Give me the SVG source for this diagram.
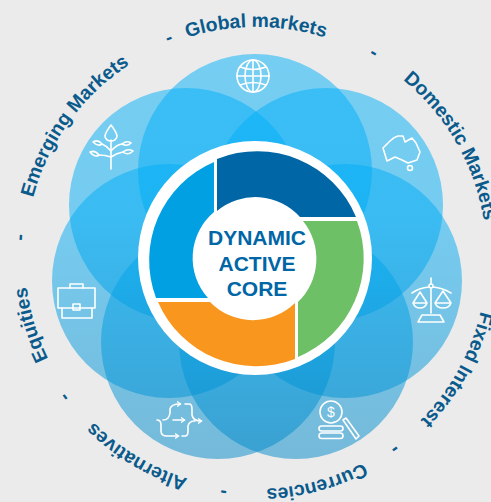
<svg xmlns="http://www.w3.org/2000/svg" width="491" height="502" viewBox="0 0 491 502">
<style>
.bg{fill:#ebebeb}
.petal{fill:url(#pg);fill-opacity:.5}
.lbl{font:bold 19.400px "Liberation Sans",Arial,sans-serif;fill:#0a5a8c;text-anchor:middle}
.core{font:bold 21px "Liberation Sans",Arial,sans-serif;fill:#0066a6;text-anchor:middle}
.ic{fill:none;stroke:#fff;stroke-width:1.6;stroke-linecap:round;stroke-linejoin:round}
</style>
<defs>
<linearGradient id="pg" gradientUnits="userSpaceOnUse" x1="0" y1="54" x2="0" y2="460">
<stop offset="0" stop-color="#00b0fa"/><stop offset=".4" stop-color="#00acf5"/><stop offset="1" stop-color="#0088c8"/>
</linearGradient>
<path id="orbit" d="M487 258A231 231 0 1 1 25 258A231 231 0 1 1 487 258Z"/>
<marker id="ah" markerWidth="5" markerHeight="6" refX="3.5" refY="3" orient="auto" markerUnits="userSpaceOnUse"><path d="M0.5 0.5L4 3L0.5 5.5" fill="none" stroke="#fff" stroke-width="1.4"/></marker>
</defs>
<rect class="bg" width="491" height="502"/>
<g id="petals">
<circle id="petal-global" class="petal" cx="255" cy="171" r="117"/>
<circle id="petal-domestic" class="petal" cx="326" cy="205" r="117"/>
<circle id="petal-fixed" class="petal" cx="345" cy="281" r="117"/>
<circle id="petal-currencies" class="petal" cx="296" cy="342" r="117"/>
<circle id="petal-alternatives" class="petal" cx="218" cy="342" r="117"/>
<circle id="petal-equities" class="petal" cx="169" cy="281" r="117"/>
<circle id="petal-emerging" class="petal" cx="186" cy="205" r="117"/>
</g>
<g id="core">
<circle cx="255" cy="258" r="117" fill="#fff"/>
<path fill="#0066a6" d="M217 159A107 107 0 0 1 356 217H300A60 60 0 0 0 217 211Z"/>
<path fill="#6dc066" d="M303 221H357A107 107 0 0 1 298 357V302A60 60 0 0 0 303 221Z"/>
<path fill="#f9961e" d="M295 303V359A107 107 0 0 1 158 302H210A60 60 0 0 0 295 303Z"/>
<path fill="#00a0e2" d="M214 162V212A60 60 0 0 0 208 298H156A107 107 0 0 1 214 162Z"/>
<text class="core" x="257" y="245">DYNAMIC</text>
<text class="core" x="257" y="271">ACTIVE</text>
<text class="core" x="257" y="296">CORE</text>
</g>
<g id="labels">
<text class="lbl"><textPath href="#orbit" startOffset="75%">Global markets</textPath></text>
<text class="lbl"><textPath href="#orbit" startOffset="91.7%">Domestic Markets</textPath></text>
<text class="lbl"><textPath href="#orbit" startOffset="8.06%">Fixed Interest</textPath></text>
<text class="lbl"><textPath href="#orbit" startOffset="20.8%">Currencies</textPath></text>
<text class="lbl"><textPath href="#orbit" startOffset="33.6%">Alternatives</textPath></text>
<text class="lbl"><textPath href="#orbit" startOffset="45.4%">Equities</textPath></text>
<text class="lbl"><textPath href="#orbit" startOffset="60%">Emerging Markets</textPath></text>
<text class="lbl"><textPath href="#orbit" startOffset="69%">-</textPath></text>
<text class="lbl"><textPath href="#orbit" startOffset="83.3%">-</textPath></text>
<text class="lbl"><textPath href="#orbit" startOffset="51.4%">-</textPath></text>
<text class="lbl"><textPath href="#orbit" startOffset="40%">-</textPath></text>
<text class="lbl"><textPath href="#orbit" startOffset="27.2%">-</textPath></text>
<text class="lbl"><textPath href="#orbit" startOffset="15%">-</textPath></text>
</g>
<g id="icon-globe" class="ic">
<circle cx="253" cy="76" r="16"/><ellipse cx="253" cy="76" rx="8" ry="16"/><path d="M253 60V92M237 76H269"/>
<path d="M240 67Q253 72 266 67M240 85Q253 80 266 85"/>
</g>
<g id="icon-tree" class="ic">
<path d="M111 169V140M111 125Q105 133 105 136A6 5 0 0 0 117 136Q117 133 111 125Z"/>
<path d="M111 151Q107 146 102 144M111 157Q105 155 99 155M111 151Q116 145 122 144M111 157Q117 153 123 152"/>
<path d="M93 142Q98 139 102 144Q98 147 93 142ZM90 152Q95 150 99 155Q95 158 90 152ZM122 144Q127 140 131 143Q127 147 122 144ZM123 152Q128 148 133 151Q128 156 123 152Z"/>
</g>
<g id="icon-australia" class="ic">
<path d="M383 148L390 141Q394 137 398 136L403 136L405 142L412 138L416 143L420 152L417 160L408 163L402 160L395 157L387 161Z"/>
<circle cx="410" cy="168" r="2.5"/>
</g>
<g id="icon-scales" class="ic">
<path d="M431 278V284M431 288V313M412 293Q419 288 429 287M433 287Q443 288 451 293"/>
<circle cx="431" cy="286" r="2"/>
<path d="M422 315H440L444 322H418Z"/>
<path d="M413 303L420 292L427 303M413 303H427Q425 308 420 308Q415 308 413 303ZM435 303L443 291L451 303M435 303H451Q449 308 443 308Q437 308 435 303Z"/>
</g>
<g id="icon-coins" class="ic">
<circle cx="331" cy="412" r="11"/>
<rect x="319" y="426" width="24" height="5" rx="2.500"/><rect x="319" y="433" width="24" height="5.500" rx="2.700"/>
<path d="M343 420L346 418L359 436L356 439Z"/>
<text x="331" y="417" text-anchor="middle" style="font:14px 'Liberation Sans',Arial,sans-serif;fill:#fff;stroke:none">$</text>
</g>
<g id="icon-arrows" class="ic">
<path marker-end="url(#ah)" d="M163 420Q169 420 170 413V409Q171 404 180 404"/>
<path marker-end="url(#ah)" d="M157 420Q161 420 161 425V431Q161 436 167 436H178"/>
<path marker-end="url(#ah)" d="M173 420H184"/>
<path marker-end="url(#ah)" d="M185 404H189Q192 404 192 409V415Q193 421 201 421"/>
<path d="M182 436H185Q188 436 188 431V426Q189 421 195 421"/>
</g>
<g id="icon-briefcase" class="ic">
<rect x="58" y="288" width="37" height="20"/><path d="M62 308V318H92V308M70 288V284H83V288"/><rect x="73" y="304" width="7" height="6"/>
</g>
</svg>
